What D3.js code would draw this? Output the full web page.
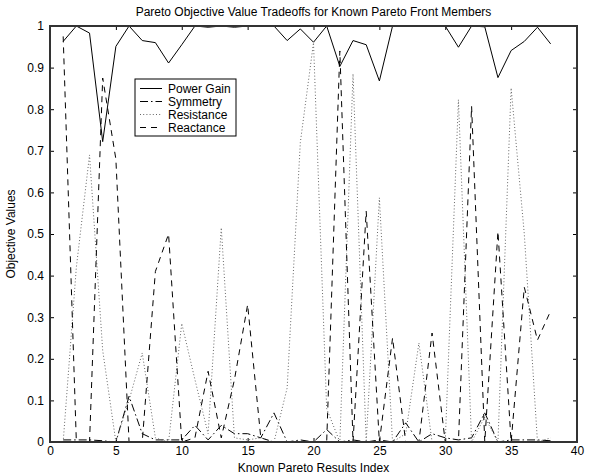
<!DOCTYPE html>
<html>
<head>
<meta charset="utf-8">
<script src="https://cdn.jsdelivr.net/npm/d3@7"></script>
<style>
  body { margin: 0; background: #fff; }
  svg { display: block; font-family: "Liberation Sans", Arial, sans-serif; }
</style>
</head>
<body>
<svg id="chart" width="592" height="476"></svg>
<script>
// x = result index 1..38
var index = d3.range(1, 39);

var powerGain = [0.963, 1.0, 0.983, 0.722, 0.951, 1.0, 0.965, 0.960, 0.911, 0.955,
  1.0, 0.997, 1.0, 0.997, 1.0, 1.0, 1.0, 0.965, 0.993, 0.961,
  1.0, 0.903, 0.965, 0.955, 0.868, 1.0, 1.0, 1.0, 0.999, 1.0,
  0.949, 1.0, 0.998, 0.876, 0.941, 0.963, 0.997, 0.957];

var symmetry = [0.005, 0.005, 0.005, 0.003, 0.0, 0.11, 0.02, 0.005, 0.005, 0.005,
  0.04, 0.005, 0.04, 0.02, 0.02, 0.01, 0.07, 0.0, 0.005, 0.0,
  0.03, 0.0, 0.005, 0.0, 0.005, 0.0, 0.046, 0.0, 0.02, 0.01,
  0.005, 0.01, 0.07, 0.0, 0.005, 0.005, 0.005, 0.003];

var resistance = [0.0, 0.42, 0.69, 0.22, 0.0, 0.10, 0.214, 0.01, 0.0, 0.285,
  0.15, 0.02, 0.515, 0.01, 0.005, 0.01, 0.0, 0.13, 0.72, 0.96,
  0.08, 0.0, 0.885, 0.0, 0.587, 0.0, 0.02, 0.238, 0.0, 0.0,
  0.823, 0.0, 0.06, 0.0, 0.851, 0.5, 0.0, 0.01];

var reactance = [0.975, 0.0, 0.0, 0.875, 0.68, 0.0, 0.0, 0.41, 0.50, 0.0,
  0.01, 0.17, 0.01, 0.15, 0.33, 0.01, 0.0, 0.0, 0.0, 0.0,
  0.0, 0.94, 0.0, 0.555, 0.0, 0.25, 0.0, 0.0, 0.262, 0.0,
  0.0, 0.807, 0.0, 0.506, 0.0, 0.372, 0.245, 0.315];

var xTicks = [0, 5, 10, 15, 20, 25, 30, 35, 40];
var yTicks = [0, 0.1, 0.2, 0.3, 0.4, 0.5, 0.6, 0.7, 0.8, 0.9, 1];

var series = [
  {name: "Power Gain", values: powerGain, dash: null, color: "#000"},
  {name: "Symmetry", values: symmetry, dash: "8,3,1.5,3", color: "#000"},
  {name: "Resistance", values: resistance, dash: "1,2.2", color: "#666"},
  {name: "Reactance", values: reactance, dash: "6,5", color: "#000"}
];

var plotLeft = 50, plotRight = 577, plotTop = 26, plotBottom = 442;
var fontSize = 12;

var svg = d3.select("#chart");

var x = d3.scaleLinear().domain([0, 40]).range([plotLeft, plotRight]);
var y = d3.scaleLinear().domain([0, 1]).range([plotBottom, plotTop]);

// ticks inside, on all four sides
svg.append("g")
  .attr("transform", "translate(0," + plotBottom + ")")
  .call(d3.axisBottom(x).tickValues(xTicks).tickSize(-4).tickPadding(4).tickFormat(d3.format("d")))
  .call(g => g.select(".domain").remove());
svg.append("g")
  .attr("transform", "translate(0," + plotTop + ")")
  .call(d3.axisTop(x).tickValues(xTicks).tickSize(-4).tickFormat(""))
  .call(g => g.select(".domain").remove());
svg.append("g")
  .attr("transform", "translate(" + plotLeft + ",0)")
  .call(d3.axisLeft(y).tickValues(yTicks).tickSize(-4).tickPadding(6).tickFormat(d3.format("~g")))
  .call(g => g.select(".domain").remove());
svg.append("g")
  .attr("transform", "translate(" + plotRight + ",0)")
  .call(d3.axisRight(y).tickValues(yTicks).tickSize(-4).tickFormat(""))
  .call(g => g.select(".domain").remove());

svg.selectAll(".tick text")
  .attr("font-size", fontSize)
  .attr("font-family", "Liberation Sans, Arial, sans-serif")
  .attr("fill", "#000");
svg.selectAll(".tick line").attr("stroke", "#000");

var line = d3.line()
  .x((d, i) => x(index[i]))
  .y(d => y(d));

svg.append("g")
  .selectAll("path")
  .data(series)
  .join("path")
  .attr("d", d => line(d.values))
  .attr("fill", "none")
  .attr("stroke", d => d.color)
  .attr("stroke-width", 1)
  .attr("stroke-dasharray", d => d.dash);

// axes box
svg.append("rect")
  .attr("x", plotLeft)
  .attr("y", plotTop)
  .attr("width", plotRight - plotLeft)
  .attr("height", plotBottom - plotTop)
  .attr("fill", "none")
  .attr("stroke", "#333")
  .attr("stroke-width", 2);

// legend
var legend = svg.append("g").attr("transform", "translate(135,79)");
legend.append("rect")
  .attr("width", 101)
  .attr("height", 57)
  .attr("fill", "#fff")
  .attr("stroke", "#000")
  .attr("stroke-width", 1);
var item = legend.selectAll("g.item")
  .data(series)
  .join("g")
  .attr("class", "item")
  .attr("transform", (d, i) => "translate(0," + (9.5 + i * 13) + ")");
item.append("line")
  .attr("x1", 5).attr("x2", 27)
  .attr("stroke", d => d.color)
  .attr("stroke-width", 1)
  .attr("stroke-dasharray", d => d.dash);
item.append("text")
  .attr("x", 33)
  .attr("dy", "0.35em")
  .attr("font-size", fontSize)
  .text(d => d.name);

// titles
svg.append("text")
  .attr("x", (plotLeft + plotRight) / 2)
  .attr("y", 16)
  .attr("text-anchor", "middle")
  .attr("font-size", fontSize)
  .text("Pareto Objective Value Tradeoffs for Known Pareto Front Members");
svg.append("text")
  .attr("x", (plotLeft + plotRight) / 2)
  .attr("y", 472)
  .attr("text-anchor", "middle")
  .attr("font-size", fontSize)
  .text("Known Pareto Results Index");
svg.append("text")
  .attr("transform", "translate(15," + ((plotTop + plotBottom) / 2) + ") rotate(-90)")
  .attr("text-anchor", "middle")
  .attr("font-size", fontSize)
  .text("Objective Values");
</script>
</body>
</html>
